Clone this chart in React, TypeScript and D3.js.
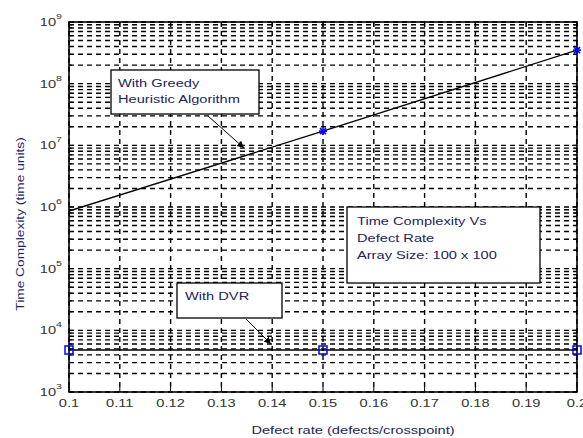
import React from "react";
import * as d3 from "d3";

const xTicks = [0.1, 0.11, 0.12, 0.13, 0.14, 0.15, 0.16, 0.17, 0.18, 0.19, 0.2];
const xTickLabels = ["0.1", "0.11", "0.12", "0.13", "0.14", "0.15", "0.16", "0.17", "0.18", "0.19", "0.2"];
const yExponents = [3, 4, 5, 6, 7, 8, 9];
const defectRate = [0.1, 0.15, 0.2];
const greedy = [8.6e5, 1.7e7, 3.5e8];
const dvr = [4.8e3, 4.8e3, 4.8e3];

const W = 583, H = 438;
const L = 69, R = 577, T = 22, B = 392;
const SX = 1.33;

function ST(props: { x: number; y: number; anchor?: string; fill?: string; size?: number; rotate?: number; sx?: number; children: React.ReactNode }) {
  const { x, y, anchor = "start", fill = "#23235c", size = 11, rotate = 0, sx = SX, children } = props;
  return (
    <text
      transform={`translate(${x},${y}) rotate(${rotate}) scale(${sx},1)`}
      textAnchor={anchor}
      fontSize={size}
      fill={fill}
    >
      {children}
    </text>
  );
}

export default function App() {
  const x = d3.scaleLinear().domain([0.1, 0.2]).range([L, R]);
  const y = d3.scaleLog().domain([1e3, 1e9]).range([B, T]);
  const line = d3.line<[number, number]>().x(d => x(d[0])).y(d => y(d[1]));
  const gPts = defectRate.map((d, i) => [d, greedy[i]] as [number, number]);
  const dPts = defectRate.map((d, i) => [d, dvr[i]] as [number, number]);

  const minor: number[] = [];
  for (let e = 3; e < 9; e++) for (let m = 2; m <= 9; m++) minor.push(m * Math.pow(10, e));
  const major = yExponents.map(e => Math.pow(10, e));

  const font = "'Liberation Sans', Arial, sans-serif";
  const txtCol = "#23235c";
  const tickCol = "#333";

  const star = (cx: number, cy: number, k: number) => {
    const s = 4;
    return (
      <g key={k} stroke="#0000ff" strokeWidth={1.6}>
        <line x1={cx - s} y1={cy} x2={cx + s} y2={cy} />
        <line x1={cx} y1={cy - s} x2={cx} y2={cy + s} />
        <line x1={cx - 3} y1={cy - 3} x2={cx + 3} y2={cy + 3} />
        <line x1={cx - 3} y1={cy + 3} x2={cx + 3} y2={cy - 3} />
      </g>
    );
  };

  return (
    <svg width={W} height={H} style={{ position: "absolute", left: 0, top: 0, background: "#fff" }} fontFamily={font}>
      <defs>
        <marker id="ah" viewBox="0 0 10 10" refX="10" refY="5" markerWidth="7" markerHeight="7" orient="auto-start-reverse" markerUnits="userSpaceOnUse">
          <path d="M0,0 L10,5 L0,10 z" fill="#000" />
        </marker>
        <clipPath id="pc"><rect x={L} y={T} width={R - L} height={B - T} /></clipPath>
      </defs>
      <rect x={0} y={0} width={W} height={H} fill="#fff" />
      {/* grid */}
      <g stroke="#000" strokeWidth={1.4} strokeDasharray="5,4" fill="none">
        {minor.concat(major).map((v, i) => (
          <line key={"h" + i} x1={L} x2={R} y1={y(v)} y2={y(v)} />
        ))}
        {xTicks.map((v, i) => (
          <line key={"v" + i} x1={x(v)} x2={x(v)} y1={T} y2={B} />
        ))}
      </g>
      {/* ticks */}
      <g stroke="#000" strokeWidth={1}>
        {xTicks.map((v, i) => (
          <g key={"xt" + i}>
            <line x1={x(v)} x2={x(v)} y1={B} y2={B - 5} />
            <line x1={x(v)} x2={x(v)} y1={T} y2={T + 5} />
          </g>
        ))}
        {minor.concat(major).map((v, i) => (
          <g key={"yt" + i}>
            <line x1={L} x2={L + (i >= minor.length ? 5 : 3)} y1={y(v)} y2={y(v)} />
            <line x1={R} x2={R - (i >= minor.length ? 5 : 3)} y1={y(v)} y2={y(v)} />
          </g>
        ))}
      </g>
      <rect x={L} y={T} width={R - L} height={B - T} fill="none" stroke="#000" strokeWidth={1.6} />
      {/* data */}
      <g clipPath="url(#pc)">
        <path d={line(gPts) || ""} fill="none" stroke="#000" strokeWidth={1.3} />
        <path d={line(dPts) || ""} fill="none" stroke="#000" strokeWidth={1.3} />
      </g>
      {gPts.slice(1).map((p, i) => star(x(p[0]), y(p[1]), i))}
      {dPts.map((p, i) => (
        <rect key={"sq" + i} x={x(p[0]) - 4} y={y(p[1]) - 4} width={8} height={8} fill="none" stroke="#0000ff" strokeWidth={1.5} />
      ))}
      {/* x tick labels */}
      {xTicks.map((v, i) => (
        <ST key={"xl" + i} x={x(v)} y={B + 15} anchor="middle" fill={tickCol}>{xTickLabels[i]}</ST>
      ))}
      {/* y tick labels */}
      {yExponents.map((e, i) => (
        <ST key={"yl" + i} x={L - 7} y={y(Math.pow(10, e)) + 4} anchor="end" fill={tickCol}>
          10<tspan fontSize={8} dy={-7}>{e}</tspan>
        </ST>
      ))}
      <ST x={353} y={434} anchor="middle" fill={txtCol}>Defect rate (defects/crosspoint)</ST>
      <ST x={24} y={224} anchor="middle" fill={txtCol} rotate={-90} sx={1.25}>Time Complexity (time units)</ST>
      {/* annotations */}
      <rect x={111} y={70} width={148} height={44} fill="#fff" stroke="#000" strokeWidth={1.3} />
      <ST x={118} y={87}>With Greedy</ST>
      <ST x={118} y={103}>Heuristic Algorithm</ST>
      <line x1={208} y1={116} x2={244} y2={148} stroke="#000" strokeWidth={1} markerEnd="url(#ah)" />

      <rect x={177} y={283} width={105} height={35} fill="#fff" stroke="#000" strokeWidth={1.3} />
      <ST x={185} y={300}>With DVR</ST>
      <line x1={246} y1={319} x2={271} y2={344} stroke="#000" strokeWidth={1} markerEnd="url(#ah)" />

      <rect x={347} y={207} width={193} height={76} fill="#fff" stroke="#000" strokeWidth={1.3} />
      <ST x={357} y={225}>Time Complexity Vs</ST>
      <ST x={357} y={242}>Defect Rate</ST>
      <ST x={357} y={259}>Array Size: 100 x 100</ST>
    </svg>
  );
}
